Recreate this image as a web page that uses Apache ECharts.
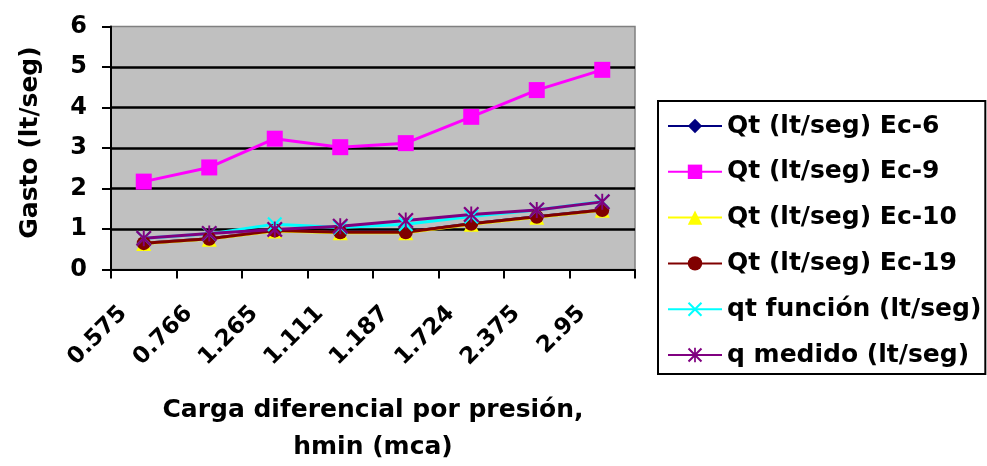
<!DOCTYPE html>
<html><head><meta charset="utf-8">
<script src="https://cdn.jsdelivr.net/npm/echarts@6/dist/echarts.min.js"></script>
<style>html,body{margin:0;padding:0;background:#fff}#c{width:987px;height:466px}</style>
</head><body><div id="c"></div>
<script>
const categories = ['0.575', '0.766', '1.265', '1.111', '1.187', '1.724', '2.375', '2.95'];
const yTicks = [0, 1, 2, 3, 4, 5, 6];
const seriesNames = ['Qt (lt/seg) Ec-6', 'Qt (lt/seg) Ec-9', 'Qt (lt/seg) Ec-10', 'Qt (lt/seg) Ec-19', 'qt función (lt/seg)', 'q medido (lt/seg)'];
const qtEc6 = [0.65, 0.76, 0.96, 0.92, 0.92, 1.13, 1.30, 1.47];
const qtEc9 = [2.17, 2.52, 3.23, 3.02, 3.12, 3.77, 4.43, 4.93];
const qtEc10 = [0.64, 0.75, 0.95, 0.91, 0.91, 1.12, 1.29, 1.46];
const qtEc19 = [0.65, 0.76, 0.96, 0.92, 0.92, 1.13, 1.30, 1.47];
const qtFuncion = [0.77, 0.88, 1.12, 1.04, 1.12, 1.31, 1.47, 1.68];
const qMedido = [0.77, 0.89, 0.99, 1.07, 1.21, 1.36, 1.47, 1.67];

const FONT = 'DejaVu Sans';
const X_PATH = 'path://M0,1L1,0L5,4L9,0L10,1L6,5L10,9L9,10L5,6L1,10L0,9L4,5Z';
const AST_PATH = 'path://M0,1L1,0L5,4L9,0L10,1L6,5L10,9L9,10L5,6L1,10L0,9L4,5ZM4.4,0L5.6,0L5.6,10L4.4,10Z';

function mk(name, data, color, symbol, size) {
  return {
    name: name, type: 'line', data: data, symbol: symbol, symbolSize: size,
    itemStyle: { color: color }, lineStyle: { color: color, width: 3 },
    emphasis: { disabled: true }, animation: false
  };
}

const chart = echarts.init(document.getElementById('c'), null, { renderer: 'canvas' });
chart.setOption({
  backgroundColor: '#ffffff',
  textStyle: { fontFamily: FONT },
  grid: {
    left: 111, right: 352, top: 26.5, bottom: 196.5,
    show: true, backgroundColor: '#C0C0C0', borderColor: '#808080', borderWidth: 1.5,
    containLabel: false, outerBoundsMode: 'none'
  },
  legend: {
    orient: 'vertical', left: 658, top: 101,
    padding: [10, 4, 4, 9], itemGap: 15.8, itemWidth: 54, itemHeight: 18,
    borderColor: '#000', borderWidth: 2, backgroundColor: '#fff',
    data: seriesNames,
    textStyle: { fontFamily: FONT, fontWeight: 'bold', fontSize: 25, color: '#000', lineHeight: 30 }
  },
  xAxis: {
    type: 'category', data: categories, boundaryGap: true,
    name: 'Carga diferencial por presión,\nhmin (mca)', nameLocation: 'middle', nameGap: 122.5,
    nameTextStyle: { fontFamily: FONT, fontWeight: 'bold', fontSize: 25, color: '#000', lineHeight: 37, verticalAlign: 'top' },
    axisLine: { show: true, lineStyle: { color: '#000', width: 2 } },
    axisTick: { show: true, inside: false, length: 9, interval: 0, lineStyle: { color: '#000', width: 2 } },
    axisLabel: { interval: 0, rotate: 45, margin: 20, padding: [0, 29, 0, 0], fontFamily: FONT, fontWeight: 'bold', fontSize: 23, color: '#000' },
    splitLine: { show: false }
  },
  yAxis: {
    type: 'value', min: yTicks[0], max: yTicks[yTicks.length - 1], interval: 1,
    name: 'Gasto (lt/seg)', nameLocation: 'middle', nameGap: 68, nameRotate: 90,
    nameTextStyle: { fontFamily: FONT, fontWeight: 'bold', fontSize: 25, color: '#000', padding: [0, 0, 0, 11] },
    axisLine: { show: true, lineStyle: { color: '#000', width: 2 } },
    axisTick: { show: true, inside: false, length: 9, lineStyle: { color: '#000', width: 2 } },
    axisLabel: { margin: 24, fontFamily: FONT, fontWeight: 'bold', fontSize: 24, color: '#000' },
    splitLine: { show: true, showMinLine: false, showMaxLine: false, lineStyle: { color: '#000', width: 2.5 } }
  },
  series: [
    mk(seriesNames[0], qtEc6, '#000080', 'diamond', 13),
    mk(seriesNames[1], qtEc9, '#FF00FF', 'rect', 16),
    mk(seriesNames[2], qtEc10, '#FFFF00', 'triangle', 15),
    mk(seriesNames[3], qtEc19, '#800000', 'circle', 14),
    mk(seriesNames[4], qtFuncion, '#00FFFF', X_PATH, 15),
    mk(seriesNames[5], qMedido, '#800080', AST_PATH, 16)
  ]
});
</script></body></html>
